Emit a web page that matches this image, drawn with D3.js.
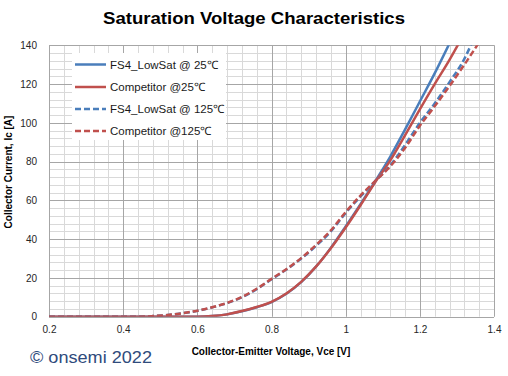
<!DOCTYPE html>
<html>
  <head>
    <style>
      body { margin: 0; background: #fff; }
      svg { font-family: 'Liberation Sans', Arial, sans-serif; }
    </style>
  </head>
  <body>
    <svg id="svg" width="508" height="376"></svg>
    <script src="https://cdn.jsdelivr.net/npm/d3@7"></script>
    <script>
      // data, [Vce, Ic]
      const fs4_25 = [
        [0.2, 0], [0.6, 0], [0.64, 0.3], [0.68, 1.2], [0.72, 2.8], [0.76, 4.9],
        [0.8, 7.5], [0.84, 11.8], [0.88, 17.8], [0.92, 25.8], [0.96, 35.5], [1.0, 46.5],
        [1.04, 58], [1.08, 70], [1.12, 82.5], [1.16, 96.5], [1.2, 111], [1.24, 125.5], [1.28, 141]
      ];
      const comp_25 = [
        [0.2, 0], [0.6, 0], [0.64, 0.3], [0.68, 1.2], [0.72, 2.9], [0.76, 5],
        [0.8, 7.7], [0.84, 12], [0.88, 18], [0.92, 25.8], [0.96, 35.3], [1.0, 46],
        [1.04, 57.5], [1.08, 69.5], [1.12, 80.5], [1.16, 93.5], [1.2, 107], [1.24, 120],
        [1.28, 132.5], [1.305, 141]
      ];
      const fs4_125 = [
        [0.2, 0], [0.44, 0], [0.48, 0.3], [0.52, 0.9], [0.56, 1.8], [0.6, 3],
        [0.64, 4.8], [0.68, 7], [0.72, 10], [0.76, 14.2], [0.8, 19.3], [0.84, 24.3],
        [0.88, 30], [0.92, 36.5], [0.96, 44], [1.0, 53.5], [1.04, 62], [1.08, 70],
        [1.12, 78], [1.16, 88.5], [1.2, 100], [1.24, 110], [1.28, 121], [1.32, 133], [1.34, 141]
      ];
      const comp_125 = [
        [0.2, 0], [0.44, 0], [0.48, 0.3], [0.52, 0.9], [0.56, 1.8], [0.6, 3.1],
        [0.64, 4.9], [0.68, 7.1], [0.72, 10.2], [0.76, 14.4], [0.8, 19.5], [0.84, 24.5],
        [0.88, 30.2], [0.92, 37], [0.96, 44.5], [1.0, 54], [1.04, 62.5], [1.08, 70],
        [1.12, 77.5], [1.16, 87], [1.2, 98.5], [1.24, 108.5], [1.28, 119], [1.32, 130], [1.358, 141]
      ];
      const seriesNames = ['FS4_LowSat @ 25\u2103', 'Competitor @25\u2103', 'FS4_LowSat  @ 125\u2103', 'Competitor @125\u2103'];
      const xTicks = [0.2, 0.4, 0.6, 0.8, 1, 1.2, 1.4];
      const yTicks = [0, 20, 40, 60, 80, 100, 120, 140];

      const pLeft = 49, pRight = 494, pTop = 45.3, pBottom = 316.7;
      const blue = '#4a7ebb', red = '#c0504d';

      const svg = d3.select('#svg');
      const x = d3.scaleLinear().domain([0.2, 1.4]).range([pLeft, pRight]);
      const y = d3.scaleLinear().domain([0, 140]).range([pBottom, pTop]);
      const px = v => Math.round(v) + 0.5;

      // minor grid
      const minorX = d3.range(0.2, 1.4001, 0.04);
      const minorY = d3.range(0, 140.001, 4);
      const grid = svg.append('g');
      grid.selectAll('.mx').data(minorX).join('line')
        .attr('x1', d => px(x(d))).attr('x2', d => px(x(d)))
        .attr('y1', pTop).attr('y2', pBottom)
        .attr('stroke', '#d9d9d9');
      grid.selectAll('.my').data(minorY).join('line')
        .attr('y1', d => px(y(d))).attr('y2', d => px(y(d)))
        .attr('x1', pLeft).attr('x2', pRight)
        .attr('stroke', '#d9d9d9');
      // major grid
      grid.selectAll('.Mx').data(xTicks).join('line')
        .attr('x1', d => px(x(d))).attr('x2', d => px(x(d)))
        .attr('y1', pTop).attr('y2', pBottom)
        .attr('stroke', '#a6a6a6');
      grid.selectAll('.My').data(yTicks).join('line')
        .attr('y1', d => px(y(d))).attr('y2', d => px(y(d)))
        .attr('x1', pLeft).attr('x2', pRight)
        .attr('stroke', '#a6a6a6');

      // axes
      const xAxis = svg.append('g')
        .attr('transform', `translate(0, ${pBottom})`)
        .call(d3.axisBottom(x).tickValues(xTicks).tickSize(0).tickPadding(9).tickFormat(d3.format('')));
      const yAxis = svg.append('g')
        .attr('transform', `translate(${pLeft}, 0)`)
        .call(d3.axisLeft(y).tickValues(yTicks).tickSize(0).tickPadding(12));
      [xAxis, yAxis].forEach(a => {
        a.select('.domain').remove();
        a.selectAll('text').attr('font-size', 10).attr('fill', '#262626')
          .attr('font-family', 'Liberation Sans, sans-serif');
      });

      // curves
      svg.append('clipPath').attr('id', 'clip')
        .append('rect').attr('x', pLeft).attr('y', pTop).attr('width', pRight - pLeft).attr('height', pBottom - pTop);
      const line = d3.line().x(d => x(d[0])).y(d => y(d[1])).curve(d3.curveMonotoneX);
      const series = [
        { data: fs4_25, color: blue, dash: null },
        { data: comp_25, color: red, dash: null },
        { data: fs4_125, color: blue, dash: '6,3' },
        { data: comp_125, color: red, dash: '6,3' }
      ];
      const plot = svg.append('g').attr('clip-path', 'url(#clip)');
      series.forEach(s => {
        plot.append('path')
          .attr('d', line(s.data))
          .attr('fill', 'none')
          .attr('stroke', s.color)
          .attr('stroke-width', 2.5)
          .attr('stroke-dasharray', s.dash);
      });

      // legend
      const legend = svg.append('g');
      legend.append('rect').attr('x', 72).attr('y', 53).attr('width', 154).attr('height', 87).attr('fill', '#fff');
      const rowY = [64.5, 87, 109, 131];
      series.forEach((s, i) => {
        legend.append('line')
          .attr('x1', 75).attr('x2', 106).attr('y1', rowY[i]).attr('y2', rowY[i])
          .attr('stroke', s.color).attr('stroke-width', 2.5)
          .attr('stroke-dasharray', s.dash);
        legend.append('text')
          .attr('x', 110).attr('y', rowY[i] + 4)
          .attr('font-size', 11.5).attr('fill', '#1a1a1a')
          .text(seriesNames[i]);
      });

      // titles
      svg.append('text')
        .attr('x', 254).attr('y', 24).attr('text-anchor', 'middle')
        .attr('font-size', 17).attr('font-weight', 'bold')
        .attr('textLength', 302).attr('lengthAdjust', 'spacingAndGlyphs')
        .text('Saturation Voltage Characteristics');
      svg.append('text')
        .attr('transform', 'translate(12, 172) rotate(-90)')
        .attr('text-anchor', 'middle')
        .attr('font-size', 10).attr('font-weight', 'bold')
        .text('Collector Current, Ic [A]');
      svg.append('text')
        .attr('x', 271).attr('y', 355).attr('text-anchor', 'middle')
        .attr('font-size', 10).attr('font-weight', 'bold')
        .text('Collector-Emitter Voltage, Vce [V]');
      svg.append('text')
        .attr('x', 30).attr('y', 363)
        .attr('font-size', 17).attr('fill', '#2f4b7c')
        .attr('textLength', 122).attr('lengthAdjust', 'spacingAndGlyphs')
        .text('\u00a9 onsemi 2022');
    </script>
  </body>
</html>
